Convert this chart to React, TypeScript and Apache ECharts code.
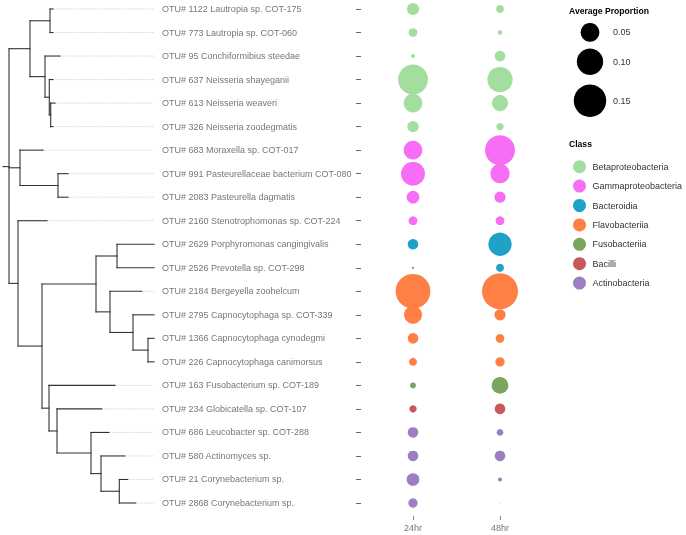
import React, { useEffect, useRef } from "react";
import * as echarts from "echarts";

const tipLabels = [
  "OTU# 1122 Lautropia sp. COT-175",
  "OTU# 773 Lautropia sp. COT-060",
  "OTU# 95 Conchiformibius steedae",
  "OTU# 637 Neisseria shayeganii",
  "OTU# 613 Neisseria weaveri",
  "OTU# 326 Neisseria zoodegmatis",
  "OTU# 683 Moraxella sp. COT-017",
  "OTU# 991 Pasteurellaceae bacterium COT-080",
  "OTU# 2083 Pasteurella dagmatis",
  "OTU# 2160 Stenotrophomonas sp. COT-224",
  "OTU# 2629 Porphyromonas cangingivalis",
  "OTU# 2526 Prevotella sp. COT-298",
  "OTU# 2184 Bergeyella zoohelcum",
  "OTU# 2795 Capnocytophaga sp. COT-339",
  "OTU# 1366 Capnocytophaga cynodegmi",
  "OTU# 226 Capnocytophaga canimorsus",
  "OTU# 163 Fusobacterium sp. COT-189",
  "OTU# 234 Globicatella sp. COT-107",
  "OTU# 686 Leucobacter sp. COT-288",
  "OTU# 580 Actinomyces sp.",
  "OTU# 21 Corynebacterium sp.",
  "OTU# 2868 Corynebacterium sp.",
];

const classNames = [
  "Betaproteobacteria",
  "Gammaproteobacteria",
  "Bacteroidia",
  "Flavobacteriia",
  "Fusobacteriia",
  "Bacilli",
  "Actinobacteria",
];
const classColors = ["#a3de9e", "#f76ef5", "#1fa2c8", "#ff7f45", "#7ba55f", "#c9585c", "#9b7fc0"];
const tipClass = [0, 0, 0, 0, 0, 0, 1, 1, 1, 1, 2, 2, 3, 3, 3, 3, 4, 5, 6, 6, 6, 6];

const timePoints = ["24hr", "48hr"];
const prop24 = [0.021, 0.011, 0.0023, 0.129, 0.05, 0.018, 0.05, 0.082, 0.023, 0.011, 0.016, 0.0006, 0.172, 0.046, 0.016, 0.009, 0.005, 0.0077, 0.016, 0.016, 0.023, 0.0124];
const prop48 = [0.009, 0.003, 0.016, 0.092, 0.037, 0.0077, 0.129, 0.053, 0.018, 0.011, 0.078, 0.009, 0.185, 0.018, 0.011, 0.0124, 0.04, 0.016, 0.0064, 0.016, 0.0023, 0.0001];

const sizeBreaks = [0.05, 0.1, 0.15];
const sizeBreakLabels = ["0.05", "0.10", "0.15"];

// tree with branch lengths; tN = row N of tipLabels
const treeNewick =
  "(((t0:3,t1:3):20,(t2:15,(t3:3.7,(t4:4.3,t5:2.3):1.4):4.3):15):21," +
  "(t6:23,(t7:10,t8:10):38):11," +
  "(t9:29,(((t10:37,t11:37):21,(t12:31.7,(t13:21,(t14:6,t15:6):15):23):14):54," +
  "(t16:66,(t17:44.7,(t18:18,(t19:24,(t20:8.4,t21:16.4):18.3):10):34):8):7):24):9):6;";

type TNode = { name: string; len: number; children: TNode[] };

function parseNewick(s: string): TNode {
  let i = 0;
  const parseNode = (): TNode => {
    const node: TNode = { name: "", len: 0, children: [] };
    if (s[i] === "(") {
      i++;
      node.children.push(parseNode());
      while (s[i] === ",") {
        i++;
        node.children.push(parseNode());
      }
      i++;
    }
    let name = "";
    while (i < s.length && !",():;".includes(s[i])) name += s[i++];
    node.name = name;
    if (s[i] === ":") {
      i++;
      let num = "";
      while (i < s.length && !",();".includes(s[i])) num += s[i++];
      node.len = parseFloat(num);
    }
    return node;
  };
  return parseNode();
}

const FONT = "'Liberation Sans', Arial, Helvetica, sans-serif";
const sizeScale = (v: number) => 83.6 * Math.sqrt(v);

export default function App() {
  const ref = useRef<HTMLDivElement>(null);
  useEffect(() => {
    if (!ref.current) return;
    const chart = echarts.init(ref.current, undefined, { renderer: "svg" });

    const root = parseNewick(treeNewick);
    const segs: number[][] = [];
    const tips: number[][] = [];
    const lay = (node: TNode, parentDepth: number): number => {
      const depth = parentDepth + node.len;
      let y: number;
      if (node.children.length === 0) {
        y = parseInt(node.name.slice(1), 10);
        tips.push([depth, y]);
      } else {
        const ys = node.children.map((c) => lay(c, depth));
        y = ys.reduce((a, b) => a + b, 0) / ys.length;
        segs.push([depth, Math.min(...ys), depth, Math.max(...ys)]);
      }
      segs.push([parentDepth, y, depth, y]);
      return y;
    };
    lay(root, 0);
    const maxDepth = Math.max(...tips.map((t) => t[0]));
    const dotted = tips.filter((t) => t[0] < maxDepth - 0.01).map((t) => [t[0], t[1], maxDepth, t[1]]);
    const labelData = tipLabels.map((_, i) => [maxDepth, i, i]);

    const lineRender = (stroke: string, width: number, dash?: number[]) => (params: any, api: any) => {
      const p1 = api.coord([api.value(0), api.value(1)]);
      const p2 = api.coord([api.value(2), api.value(3)]);
      return {
        type: "line",
        shape: { x1: p1[0], y1: p1[1], x2: p2[0], y2: p2[1] },
        style: { stroke, lineWidth: width, lineDash: dash, lineCap: "square" },
      };
    };

    const scatterSeries = classNames.map((name, ci) => {
      const data: number[][] = [];
      tipLabels.forEach((_, r) => {
        if (tipClass[r] !== ci) return;
        data.push([0, r, prop24[r]]);
        data.push([1, r, prop48[r]]);
      });
      return {
        type: "scatter",
        name,
        xAxisIndex: 1,
        yAxisIndex: 1,
        data,
        symbol: "circle",
        symbolSize: (v: number[]) => sizeScale(v[2]),
        itemStyle: { color: classColors[ci], opacity: 1 },
        silent: true,
        emphasis: { disabled: true },
      };
    });

    const sizeLegendY = [32.3, 61.7, 100.7];
    const graphics: any[] = [
      {
        type: "text",
        x: 569,
        y: 11,
        style: { text: "Average Proportion", fontSize: 8.6, fontWeight: "bold", fontFamily: FONT, fill: "#000", verticalAlign: "middle", align: "left" },
      },
      {
        type: "text",
        x: 569,
        y: 143.5,
        style: { text: "Class", fontSize: 8.6, fontWeight: "bold", fontFamily: FONT, fill: "#000", verticalAlign: "middle", align: "left" },
      },
    ];
    sizeBreaks.forEach((b, i) => {
      graphics.push({
        type: "circle",
        shape: { cx: 590, cy: sizeLegendY[i], r: sizeScale(b) / 2 },
        style: { fill: "#000" },
      });
      graphics.push({
        type: "text",
        x: 613,
        y: sizeLegendY[i],
        style: { text: sizeBreakLabels[i], fontSize: 9, fontFamily: FONT, fill: "#333", verticalAlign: "middle", align: "left" },
      });
    });

    chart.setOption({
      animation: false,
      textStyle: { fontFamily: FONT },
      grid: [
        { left: 3, top: 9, width: maxDepth, height: 494 },
        { left: 369.5, top: 9, width: 174, height: 494 },
      ],
      xAxis: [
        { type: "value", gridIndex: 0, min: 0, max: maxDepth, show: false },
        {
          type: "category",
          gridIndex: 1,
          data: timePoints,
          boundaryGap: true,
          offset: 13,
          axisLine: { show: false },
          axisTick: { show: true, alignWithLabel: true, length: 4, lineStyle: { color: "#666", width: 0.8 } },
          axisLabel: { fontSize: 9, color: "#777", margin: 7, fontFamily: FONT },
          splitLine: { show: false },
        },
      ],
      yAxis: [
        { type: "value", gridIndex: 0, min: 0, max: 21, inverse: true, show: false },
        {
          type: "category",
          gridIndex: 1,
          data: tipLabels,
          boundaryGap: false,
          inverse: true,
          offset: 8.5,
          axisLine: { show: false },
          axisTick: { show: true, length: 5, lineStyle: { color: "#555", width: 0.9 } },
          axisLabel: { show: false },
          splitLine: { show: false },
        },
      ],
      legend: {
        data: classNames,
        orient: "vertical",
        left: 568,
        top: 155.2,
        icon: "circle",
        itemWidth: 16,
        itemHeight: 13,
        itemGap: 6.4,
        selectedMode: false,
        textStyle: { fontSize: 9, color: "#333", fontFamily: FONT },
      },
      graphic: graphics,
      series: [
        {
          type: "custom",
          xAxisIndex: 0,
          yAxisIndex: 0,
          data: dotted,
          clip: false,
          silent: true,
          encode: { x: [0, 2], y: [1, 3] },
          renderItem: lineRender("#c4c4c4", 0.6, [1, 2]),
        },
        {
          type: "custom",
          xAxisIndex: 0,
          yAxisIndex: 0,
          data: segs,
          clip: false,
          silent: true,
          encode: { x: [0, 2], y: [1, 3] },
          renderItem: lineRender("#333", 1.1),
        },
        {
          type: "custom",
          xAxisIndex: 0,
          yAxisIndex: 0,
          data: labelData,
          clip: false,
          silent: true,
          encode: { x: 0, y: 1 },
          renderItem: (params: any, api: any) => {
            const p = api.coord([api.value(0), api.value(1)]);
            return {
              type: "text",
              x: p[0] + 8,
              y: p[1],
              style: {
                text: tipLabels[api.value(2)],
                fontSize: 9,
                fontFamily: FONT,
                fill: "#777",
                align: "left",
                verticalAlign: "middle",
              },
            };
          },
        },
        ...scatterSeries,
      ],
    });
    return () => chart.dispose();
  }, []);
  return <div ref={ref} style={{ position: "fixed", left: 0, top: 0, width: 686, height: 535 }} />;
}
